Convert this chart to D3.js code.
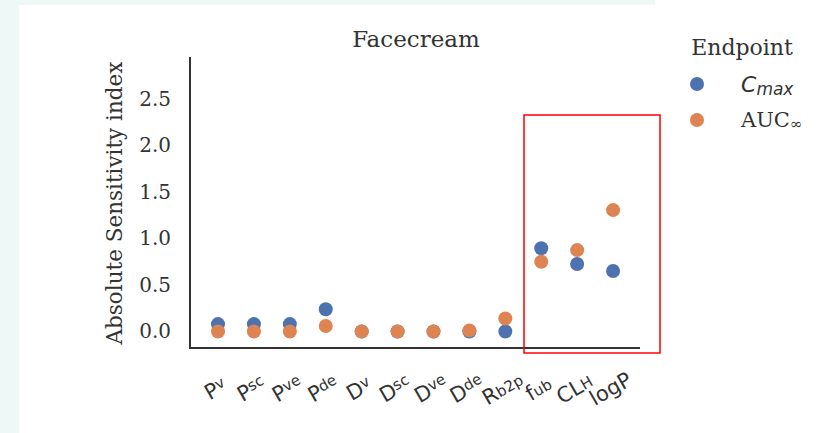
<!DOCTYPE html>
<html>
<head>
<meta charset="utf-8">
<script src="https://cdn.jsdelivr.net/npm/d3@7"></script>
<style>
  html, body { margin: 0; padding: 0; background: #ffffff; }
  svg { display: block; }
</style>
</head>
<body>
<svg id="chart" width="833" height="433"></svg>
<script>
// Parameters (base letter + subscript) along the x axis
const parameters = [
  ["P", "v"], ["P", "sc"], ["P", "ve"], ["P", "de"],
  ["D", "v"], ["D", "sc"], ["D", "ve"], ["D", "de"],
  ["R", "b2p"], ["f", "ub"], ["CL", "H"], ["logP", ""]
];
// Absolute sensitivity index for each endpoint
const cmaxValues = [0.08, 0.08, 0.08, 0.24, 0.0, 0.0, 0.0, 0.0, 0.0, 0.895, 0.725, 0.65];
const aucValues  = [0.0, 0.0, 0.0, 0.06, 0.0, 0.0, 0.0, 0.012, 0.14, 0.75, 0.875, 1.305];
const yTicks = [0.0, 0.5, 1.0, 1.5, 2.0, 2.5];

const blue = "#4c72b0", orange = "#dd8452";
const serif = "'DejaVu Serif', serif";
const sans = "'DejaVu Sans', sans-serif";

const svg = d3.select("#chart");

// page backdrop strips
svg.append("rect").attr("x", 0).attr("y", 0).attr("width", 19).attr("height", 433).attr("fill", "#eef8f6");
svg.append("rect").attr("x", 0).attr("y", 0).attr("width", 655).attr("height", 5).attr("fill", "#eef8f6");

const x = d3.scaleLinear().domain([-0.78, 11.75]).range([190, 640]);
const y = d3.scaleLinear().domain([-0.177, 2.95]).range([348, 57]);

// spines
svg.append("line").attr("x1", 190).attr("x2", 190).attr("y1", y(2.95)).attr("y2", y(-0.177))
  .attr("stroke", "#333").attr("stroke-width", 2);
svg.append("line").attr("x1", 189).attr("x2", x(11.75)).attr("y1", y(-0.177)).attr("y2", y(-0.177))
  .attr("stroke", "#333").attr("stroke-width", 2);

// y axis ticks (labels only)
const yAxis = d3.axisLeft(y).tickValues(yTicks).tickFormat(d3.format(".1f")).tickSize(0).tickPadding(19);
const yg = svg.append("g").attr("transform", "translate(190,0)").call(yAxis);
yg.select(".domain").remove();
yg.selectAll("text").attr("font-family", serif).attr("font-size", 20).attr("fill", "#333");

// x tick labels, rotated
const xl = svg.append("g").selectAll("text").data(parameters).join("text")
  .attr("transform", (d, i) => `translate(${x(i) + 1},${395}) rotate(-30)`)
  .attr("text-anchor", "middle")
  .attr("font-family", sans).attr("font-size", 21).attr("fill", "#333");
xl.append("tspan").text(d => d[0]);
xl.append("tspan").attr("font-size", 15).attr("dy", (d, i) => i < 8 ? -5 : -1).text(d => d[1]);

// title and axis label
svg.append("text").attr("x", 416).attr("y", 47).attr("text-anchor", "middle")
  .attr("font-family", serif).attr("font-size", 23).attr("fill", "#333").text("Facecream");
svg.append("text").attr("transform", "translate(122,203) rotate(-90)").attr("text-anchor", "middle")
  .attr("font-family", serif).attr("font-size", 21.5).attr("fill", "#333").text("Absolute Sensitivity index");

// points: Cmax first, AUC drawn on top
svg.append("g").selectAll("circle").data(cmaxValues).join("circle")
  .attr("cx", (d, i) => x(i)).attr("cy", d => y(d)).attr("r", 7).attr("fill", blue);
svg.append("g").selectAll("circle").data(aucValues).join("circle")
  .attr("cx", (d, i) => x(i)).attr("cy", d => y(d)).attr("r", 7).attr("fill", orange);

// highlight box around the last three parameters
svg.append("rect").attr("x", 524).attr("y", 115).attr("width", 136).attr("height", 238)
  .attr("fill", "none").attr("stroke", "#ff0000").attr("stroke-width", 1.5);

// legend
const lg = svg.append("g");
lg.append("text").attr("x", 742).attr("y", 55).attr("text-anchor", "middle")
  .attr("font-family", serif).attr("font-size", 22).attr("fill", "#333").text("Endpoint");
lg.append("circle").attr("cx", 697).attr("cy", 84).attr("r", 7).attr("fill", blue);
lg.append("circle").attr("cx", 697).attr("cy", 120).attr("r", 7).attr("fill", orange);
const t1 = lg.append("text").attr("x", 741).attr("y", 92)
  .attr("font-family", sans).attr("font-size", 22).attr("fill", "#333");
t1.append("tspan").attr("font-style", "italic").text("C");
t1.append("tspan").attr("font-style", "italic").attr("font-size", 17).attr("dy", 3).text("max");
const t2 = lg.append("text").attr("x", 741).attr("y", 127)
  .attr("font-family", serif).attr("font-size", 21).attr("fill", "#333");
t2.append("tspan").text("AUC");
t2.append("tspan").attr("font-size", 15).attr("dy", 2).text("∞");
</script>
</body>
</html>
